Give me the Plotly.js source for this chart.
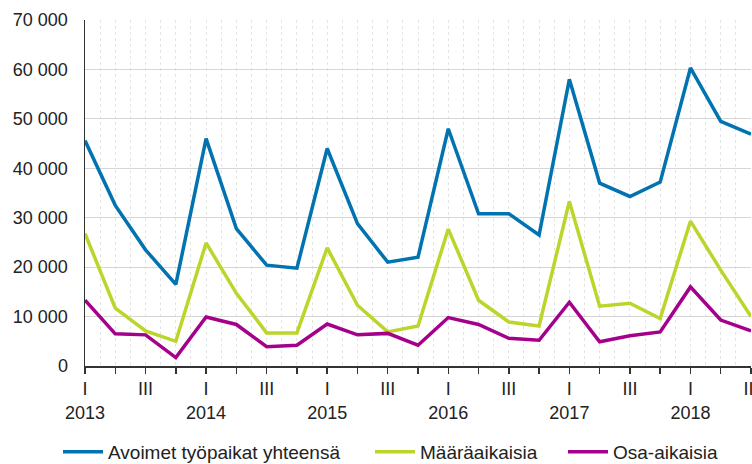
<!DOCTYPE html>
<html>
<head>
<meta charset="utf-8">
<script src="https://cdn.plot.ly/plotly-3.0.1.min.js"></script>
<style>html,body{margin:0;padding:0;background:#fff;}#chart{width:752px;height:464px;}</style>
</head>
<body>
<div id="chart"></div>
<script>
// Quarters 2013 Q1 .. 2018 Q3
const years = [2013, 2014, 2015, 2016, 2017, 2018];
const quarterNames = ["I", "", "III", ""];
const seriesNames = ["Avoimet työpaikat yhteensä", "Määräaikaisia", "Osa-aikaisia"];
const avoimet = [45600, 32500, 23500, 16500, 46000, 27800, 20400, 19800, 44000, 28800, 21000, 22000,
                 48000, 30800, 30800, 26500, 58000, 37000, 34300, 37200, 60300, 49500, 46900];
const maaraaikaisia = [26800, 11700, 7100, 5000, 24900, 14700, 6700, 6700, 23900, 12300, 6900, 8100,
                       27700, 13300, 8900, 8100, 33300, 12100, 12700, 9600, 29300, 19400, 10000];
const osaaikaisia = [13300, 6500, 6300, 1700, 9900, 8400, 3900, 4200, 8500, 6300, 6600, 4200,
                     9800, 8400, 5600, 5200, 12900, 4900, 6100, 6900, 16000, 9300, 7100];
const colors = ["#0073b0", "#bdd52b", "#a5008c"];

const n = avoimet.length;
const xs = [], ticktext = [];
for (let i = 0; i < n; i++) {
  xs.push(i);
  const q = i % 4;
  const y = years[Math.floor(i / 4)];
  ticktext.push(q === 0 ? quarterNames[q] + "<br>" + y : quarterNames[q]);
}

const series = [avoimet, maaraaikaisia, osaaikaisia];
const legendIds = ["legend", "legend2", "legend3"];
const data = series.map((vals, k) => ({
  x: xs, y: vals, type: "scatter", mode: "lines", name: seriesNames[k],
  line: {color: colors[k], width: 3.5}, cliponaxis: false, legend: legendIds[k]
}));

const font = {family: "Liberation Sans, Arial, sans-serif", size: 18, color: "#222"};
const legendStarts = [58, 370, 563];
function legendSpec(px) {
  return {orientation: "h", xref: "container", yref: "container",
          x: px / 752, xanchor: "left", y: 1 - 452 / 464, yanchor: "middle",
          font: {family: font.family, size: 19, color: "#222"}, itemwidth: 40,
          bgcolor: "rgba(0,0,0,0)"};
}
const layout = {
  width: 752, height: 464,
  margin: {l: 85, r: 1, t: 20, b: 98, autoexpand: false},
  paper_bgcolor: "#fff", plot_bgcolor: "#fff",
  separators: ", ",
  font: font,
  showlegend: true,
  legend: legendSpec(legendStarts[0]),
  legend2: legendSpec(legendStarts[1]),
  legend3: legendSpec(legendStarts[2]),
  xaxis: {
    range: [0, n - 1], tickmode: "array", tickvals: xs, ticktext: ticktext,
    showgrid: true, gridcolor: "#e4e4e4", griddash: "dot", gridwidth: 1,
    minor: {dtick: 0.5, tick0: 0, showgrid: true, gridcolor: "#e4e4e4", griddash: "dot", ticks: ""},
    showline: true, linecolor: "#333", linewidth: 1.5,
    ticks: "outside", ticklen: 6, tickcolor: "#333", tickwidth: 1.5,
    tickangle: 0, zeroline: false, fixedrange: true, ticklabeloverflow: "allow"
  },
  yaxis: {
    range: [0, 70000], dtick: 10000, tickformat: ",d",
    showgrid: true, gridcolor: "#d6d6d6", gridwidth: 1,
    showline: true, linecolor: "#333", linewidth: 1.5,
    ticks: "", ticklabelstandoff: 12, zeroline: false, fixedrange: true
  }
};
Plotly.newPlot("chart", data, layout, {staticPlot: true, displayModeBar: false});
</script>
</body>
</html>
